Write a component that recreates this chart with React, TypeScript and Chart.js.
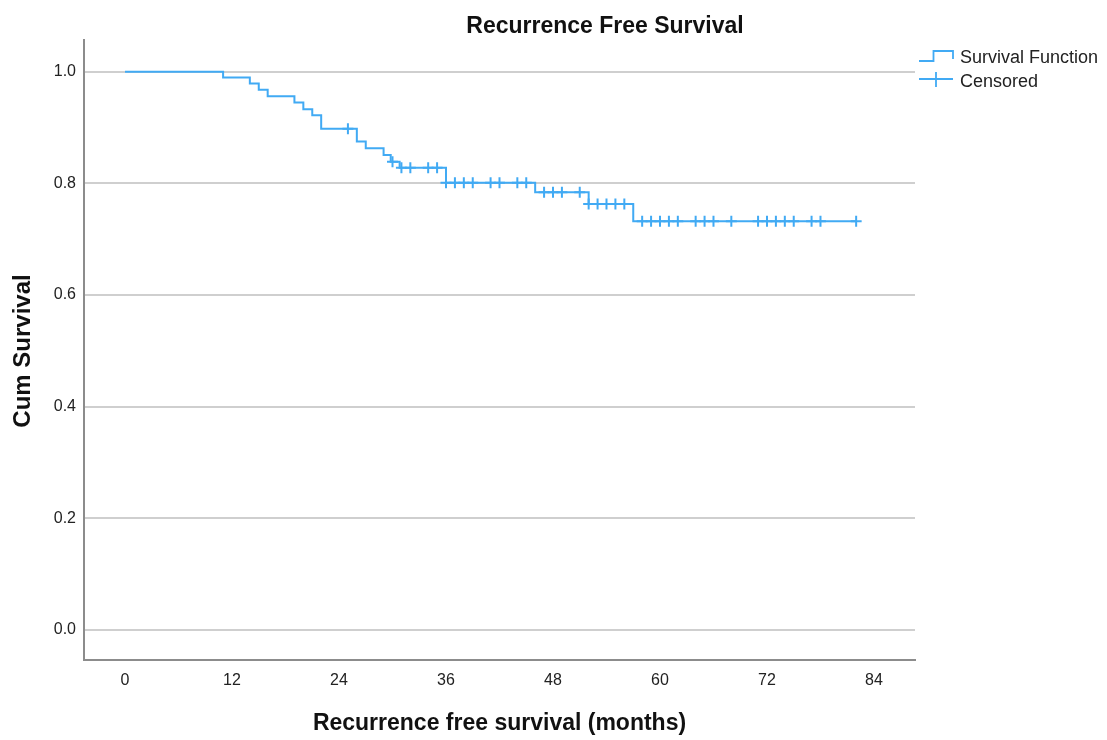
import React, { useEffect, useRef } from "react";
import { Chart, registerables } from "chart.js";

Chart.register(...registerables);

// Kaplan-Meier step events (months) and cumulative survival after each event
const eventTimes = [0, 11, 14, 15, 16, 19, 20, 21, 22, 26, 27, 29, 29.8, 30.8, 36, 46, 52, 57, 82];
const survivalValues = [1.0, 0.99, 0.979, 0.968, 0.956, 0.945, 0.933, 0.922, 0.898, 0.875, 0.863, 0.851, 0.839, 0.828, 0.801, 0.784, 0.763, 0.732, 0.732];

// Censored observation times (months)
const censoredTimes = [25, 30, 31, 32, 34, 35, 36, 37, 38, 39, 41, 42, 44, 45, 47, 48, 49, 51, 52, 53, 54, 55, 56, 58, 59, 60, 61, 62, 64, 65, 66, 68, 71, 72, 73, 74, 75, 77, 78, 82];

const xTickValues = [0, 12, 24, 36, 48, 60, 72, 84];
const yTickValues = [0, 0.2, 0.4, 0.6, 0.8, 1.0];

const chartTitle = "Recurrence Free Survival";
const xTitle = "Recurrence free survival (months)";
const yTitle = "Cum Survival";
const legendLabels = ["Survival Function", "Censored"];

const LINE = "#41aaf4";
const FONT = "'Liberation Sans', Arial, sans-serif";

function survivalAt(t: number): number {
  let v = survivalValues[0];
  for (let i = 0; i < eventTimes.length; i++) {
    if (eventTimes[i] <= t) v = survivalValues[i];
  }
  return v;
}

export default function App() {
  const ref = useRef<HTMLCanvasElement | null>(null);

  useEffect(() => {
    if (!ref.current) return;
    const textPlugin = {
      id: "customText",
      afterDraw(chart: any) {
        const ctx = chart.ctx as CanvasRenderingContext2D;
        const area = chart.chartArea;
        ctx.save();
        ctx.fillStyle = "#111";
        ctx.font = `bold 23px ${FONT}`;
        ctx.textAlign = "center";
        ctx.textBaseline = "alphabetic";
        ctx.fillText(chartTitle, 605, 33);
        ctx.fillText(xTitle, (area.left + area.right) / 2, 730);
        ctx.save();
        ctx.translate(30, 351);
        ctx.rotate(-Math.PI / 2);
        ctx.font = `bold 24px ${FONT}`;
        ctx.fillText(yTitle, 0, 0);
        ctx.restore();
        // legend
        ctx.strokeStyle = LINE;
        ctx.lineWidth = 1.8;
        ctx.beginPath();
        ctx.moveTo(919, 61);
        ctx.lineTo(933.5, 61);
        ctx.lineTo(933.5, 51);
        ctx.lineTo(953, 51);
        ctx.lineTo(953, 59);
        ctx.stroke();
        ctx.beginPath();
        ctx.moveTo(919, 79);
        ctx.lineTo(953, 79);
        ctx.moveTo(936, 72);
        ctx.lineTo(936, 87);
        ctx.stroke();
        ctx.font = `18px ${FONT}`;
        ctx.textAlign = "left";
        ctx.fillStyle = "#222";
        ctx.fillText(legendLabels[0], 960, 63);
        ctx.fillText(legendLabels[1], 960, 87);
        ctx.restore();
      },
    };

    const chart = new Chart(ref.current, {
      type: "line",
      data: {
        datasets: [
          {
            type: "line",
            label: legendLabels[0],
            data: eventTimes.map((t, i) => ({ x: t, y: survivalValues[i] })),
            stepped: true,
            borderColor: LINE,
            borderWidth: 2,
            pointRadius: 0,
            fill: false,
          } as any,
          {
            type: "scatter",
            label: legendLabels[1],
            data: censoredTimes.map((t) => ({ x: t, y: survivalAt(t) })),
            pointStyle: "cross",
            pointRadius: 5.5,
            borderColor: LINE,
            borderWidth: 2,
            showLine: false,
          } as any,
        ],
      },
      options: {
        animation: false,
        responsive: false,
        layout: { padding: { left: 0, top: 40, right: 192, bottom: 0 } },
        plugins: {
          legend: { display: false },
          title: { display: false },
          tooltip: { enabled: false },
        },
        scales: {
          x: {
            type: "linear",
            min: -4.6,
            max: 88.6,
            afterBuildTicks: (s: any) => {
              s.ticks = xTickValues.map((v) => ({ value: v }));
            },
            afterFit: (s: any) => {
              s.height = 80;
            },
            grid: { display: false, drawTicks: false },
            border: { display: true, color: "#8c8c8c", width: 2 },
            ticks: {
              padding: 11,
              color: "#222",
              font: { family: FONT, size: 16 },
              autoSkip: false,
              maxRotation: 0,
              callback: (v: any) => String(v),
            },
          },
          y: {
            type: "linear",
            min: -0.054,
            max: 1.057,
            afterBuildTicks: (s: any) => {
              s.ticks = yTickValues.map((v) => ({ value: v }));
            },
            afterFit: (s: any) => {
              s.width = 84;
            },
            grid: { color: "#cfcfcf", lineWidth: 2, drawTicks: false },
            border: { display: true, color: "#8c8c8c", width: 2 },
            ticks: {
              padding: 8,
              color: "#222",
              font: { family: FONT, size: 16 },
              autoSkip: false,
              callback: (v: any) => Number(v).toFixed(1),
            },
          },
        },
      } as any,
      plugins: [textPlugin],
    });
    return () => chart.destroy();
  }, []);

  return (
    <div style={{ position: "fixed", left: 0, top: 0, width: 1107, height: 740, background: "#fff" }}>
      <canvas ref={ref} width={1107} height={740} style={{ width: 1107, height: 740, display: "block" }} />
    </div>
  );
}
